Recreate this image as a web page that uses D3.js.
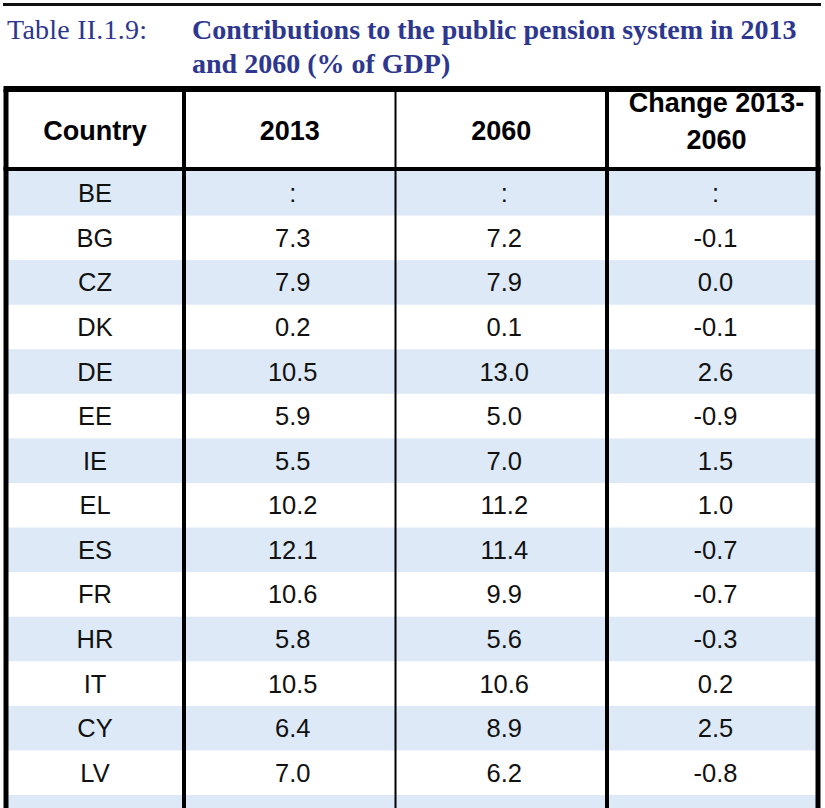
<!DOCTYPE html>
<html>
<head>
<meta charset="utf-8">
<script src="https://cdn.jsdelivr.net/npm/d3@7/dist/d3.min.js"></script>
<style>
  html, body { margin: 0; padding: 0; background: #fff; }
  svg { display: block; }
</style>
</head>
<body>
<svg id="chart" width="825" height="808"></svg>
<script>
const tableLabel = "Table II.1.9:";
const titleLines = ["Contributions to the public pension system in 2013", "and 2060 (% of GDP)"];
const headers = [["Country"], ["2013"], ["2060"], ["Change 2013-", "2060"]];
const countries = ["BE","BG","CZ","DK","DE","EE","IE","EL","ES","FR","HR","IT","CY","LV"];
const values2013 = [null,7.3,7.9,0.2,10.5,5.9,5.5,10.2,12.1,10.6,5.8,10.5,6.4,7.0];
const values2060 = [null,7.2,7.9,0.1,13.0,5.0,7.0,11.2,11.4,9.9,5.6,10.6,8.9,6.2];
const change = [null,-0.1,0.0,-0.1,2.6,-0.9,1.5,1.0,-0.7,-0.7,-0.3,0.2,2.5,-0.8];

const svg = d3.select("#chart");
const navy = "#2e3790";

// top rule
svg.append("rect").attr("x", 3).attr("y", 3).attr("width", 818).attr("height", 3).attr("fill", "#111");

svg.append("text").attr("x", 7).attr("y", 39)
  .attr("font-family", "Liberation Serif, Times New Roman, serif").attr("font-size", 28)
  .attr("textLength", 140).attr("lengthAdjust", "spacing")
  .attr("fill", navy).text(tableLabel);
svg.selectAll("text.title").data(titleLines).join("text").attr("class", "title")
  .attr("x", 192).attr("y", (d, i) => 39 + i * 34)
  .attr("font-family", "Liberation Serif, Times New Roman, serif").attr("font-size", 28)
  .attr("font-weight", "bold").attr("fill", navy).text(d => d);

// layout
const colEdges = [6, 184, 395.5, 607, 818];
const headTop = 89, headBottom = 169;
const bodyTop = 171, rowH = 44.57;
const nRows = countries.length + 1; // last one partial
const rowIdx = d3.range(nRows);
const y = d3.scaleBand().domain(rowIdx).range([bodyTop, bodyTop + nRows * rowH]).paddingInner(0).paddingOuter(0);
const x = d3.scaleOrdinal().domain([0,1,2,3]).range([0,1,2,3].map(i => (colEdges[i] + colEdges[i+1]) / 2));

// row fills
svg.selectAll("rect.row").data(rowIdx).join("rect").attr("class", "row")
  .attr("x", colEdges[0]).attr("y", d => y(d)).attr("width", colEdges[4] - colEdges[0])
  .attr("height", y.bandwidth() + 0.5)
  .attr("fill", d => d % 2 === 0 ? "#dde9f7" : "#ffffff");

// header
const fmt = v => v === null ? ":" : v.toFixed(1);
headers.forEach((lines, c) => {
  const t = svg.append("text").attr("text-anchor", "middle")
    .attr("font-family", "Liberation Sans, Arial, sans-serif").attr("font-size", 27)
    .attr("font-weight", "bold").attr("fill", "#000");
  if (lines.length === 1) {
    t.append("tspan").attr("x", x(c)).attr("y", 140).text(lines[0]);
  } else {
    lines.forEach((l, i) => t.append("tspan").attr("x", x(c) + 4).attr("y", 112 + i * 36.5).text(l));
  }
});

// body text
const rows = countries.map((c, i) => [c, fmt(values2013[i]), fmt(values2060[i]), fmt(change[i])]);
const g = svg.append("g").attr("font-family", "Liberation Sans, Arial, sans-serif").attr("font-size", 25.5).attr("fill", "#111");
rows.forEach((r, i) => {
  r.forEach((v, c) => {
    g.append("text").attr("x", x(c) + (c === 0 ? 0 : 3)).attr("y", y(i) + y.bandwidth() / 2 + 9)
      .attr("text-anchor", "middle").text(v);
  });
});

// borders
const line = (x1, y1, x2, y2, w) => svg.append("line").attr("x1", x1).attr("y1", y1).attr("x2", x2).attr("y2", y2)
  .attr("stroke", "#000").attr("stroke-width", w);
line(colEdges[0] - 2.5, headTop, colEdges[4] + 2.5, headTop, 6);
line(colEdges[0] - 2.5, headBottom, colEdges[4] + 2.5, headBottom, 4);
line(colEdges[0], headTop, colEdges[0], 808, 5);
line(colEdges[1], headTop, colEdges[1], 808, 4);
line(colEdges[2], headTop, colEdges[2], 808, 2);
line(colEdges[3], headTop, colEdges[3], 808, 4);
line(colEdges[4], headTop, colEdges[4], 808, 5);
</script>
</body>
</html>
